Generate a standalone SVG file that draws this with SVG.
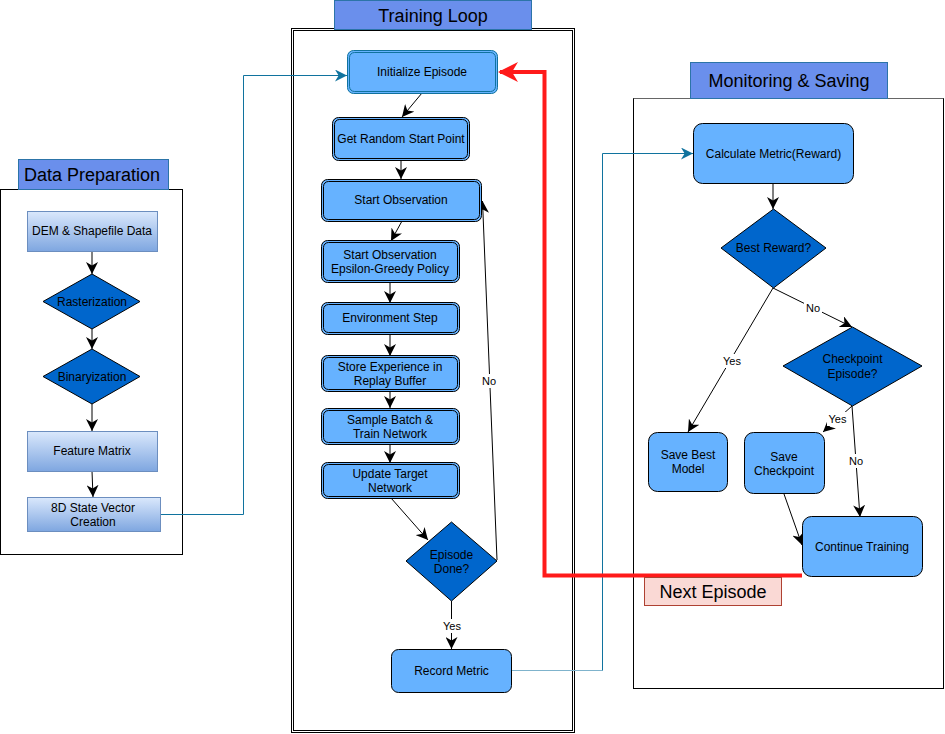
<svg xmlns="http://www.w3.org/2000/svg" width="945" height="734" viewBox="0 0 945 734">
<style>
text{font-family:"Liberation Sans",Arial,sans-serif;fill:#000;text-anchor:middle;dominant-baseline:central}
.t{font-size:12px}
.h{font-size:18px}
.l{font-size:11px}
.grad{fill:url(#g);stroke:#6c8ebf;stroke-width:1}
.dia{fill:#0066cc;stroke:#000;stroke-width:1}
.box{fill:#66b2ff;stroke:#000;stroke-width:1}
.dbo{fill:#66b2ff;stroke:#000;stroke-width:1}
.dbi{fill:none;stroke:#000;stroke-width:1}
.title{fill:#6a8fec;stroke:#2c74a8;stroke-width:1}
.cont{fill:#fff;stroke:#000;stroke-width:1}
.e{fill:none;stroke:#000;stroke-width:1;marker-end:url(#a)}
.eb{fill:none;stroke:#10739e;stroke-width:1;marker-end:url(#ab)}
.lb{fill:#fff}
</style>
<defs>
<linearGradient id="g" x1="0" y1="0" x2="0" y2="1"><stop offset="0" stop-color="#dae8fc"/><stop offset="1" stop-color="#7ea6e0"/></linearGradient>
<marker id="a" markerUnits="userSpaceOnUse" markerWidth="12" markerHeight="12" viewBox="0 0 10 10" refX="10" refY="5" orient="auto"><path d="M0,0 L10,5 L0,10 L3,5 z" fill="#000"/></marker>
<marker id="ab" markerUnits="userSpaceOnUse" markerWidth="12" markerHeight="12" viewBox="0 0 10 10" refX="10" refY="5" orient="auto"><path d="M0,0 L10,5 L0,10 L3,5 z" fill="#10739e"/></marker>
<marker id="ar" markerUnits="userSpaceOnUse" markerWidth="20" markerHeight="20" viewBox="0 0 10 10" refX="9" refY="5" orient="auto"><path d="M0,0 L10,5 L0,10 L3,5 z" fill="#ff1a1a"/></marker>
</defs>

<!-- containers -->
<g id="data-preparation">
<rect class="cont" x="0.5" y="189.5" width="182" height="365"/>
<rect class="title" x="18.5" y="159.5" width="150" height="30"/>
<text class="h" x="92" y="175">Data Preparation</text>
</g>
<g id="training-loop">
<rect class="cont" x="291.5" y="28.5" width="283" height="704"/>
<rect fill="none" stroke="#000" x="293.5" y="30.5" width="279" height="700"/>
<rect class="title" x="334.5" y="0.5" width="197" height="29"/>
<text class="h" x="433" y="16">Training Loop</text>
</g>
<g id="monitoring-saving">
<rect class="cont" x="633.5" y="98.5" width="310" height="590"/>
<line x1="633.5" y1="98.5" x2="943.5" y2="98.5" stroke="#666"/>
<rect class="title" x="690.5" y="62.5" width="197" height="36"/>
<text class="h" x="789" y="81">Monitoring &amp; Saving</text>
</g>

<!-- connectors -->
<g id="connectors">
<path class="e" d="M92,251 L92,274"/>
<path class="e" d="M92,329 L92,349"/>
<path class="e" d="M92,404 L92,431"/>
<path class="e" d="M92,471 L93,497"/>
<path class="eb" d="M161,514.5 L243.5,514.5 L243.5,75.5 L347,75.5"/>

<path class="e" d="M422,93 L402,117"/>
<path class="e" d="M401,160 L401,179"/>
<path class="e" d="M402,221 L391,241"/>
<path class="e" d="M390,283 L390,303"/>
<path class="e" d="M390,334 L390,356"/>
<path class="e" d="M390,392 L390,408"/>
<path class="e" d="M390,444 L390,463"/>
<path class="e" d="M391,498 L428,540"/>
<path class="e" d="M497,560 L482.5,201"/>
<rect class="lb" x="480" y="374" width="18" height="14"/>
<text class="l" x="489" y="381">No</text>
<path class="e" d="M451.5,601 L451.5,649"/>
<rect class="lb" x="441" y="619" width="22" height="14"/>
<text class="l" x="452" y="626">Yes</text>

<path fill="none" stroke="#7fb3cc" stroke-width="1" d="M512,670.5 L602.5,670.5"/>
<path class="eb" d="M602.5,670.5 L602.5,153.5 L693,153.5"/>

<path fill="none" stroke="#ff1a1a" stroke-width="4" stroke-linejoin="miter" marker-end="url(#ar)" d="M802,575.5 L544.5,575.5 L544.5,72 L500,72"/>

<path class="e" d="M773,183 L773,209"/>
<path class="e" d="M773,288 L852,327"/>
<rect class="lb" x="804" y="301" width="18" height="14"/>
<text class="l" x="813" y="308">No</text>
<path class="e" d="M773,288 L688,432"/>
<rect class="lb" x="721" y="354" width="22" height="14"/>
<text class="l" x="732" y="361">Yes</text>
<path class="e" d="M852,406 L823,432"/>
<rect class="lb" x="827" y="412" width="21" height="14"/>
<text class="l" x="837.5" y="419">Yes</text>
<path class="e" d="M852,406 L860,517"/>
<rect class="lb" x="847" y="454" width="18" height="14"/>
<text class="l" x="856" y="461">No</text>
<path class="e" d="M784,494 L802,545"/>
</g>

<!-- Data preparation nodes -->
<g id="dem-shapefile"><rect class="grad" x="27.5" y="211.5" width="130" height="40"/><text class="t" x="92" y="231">DEM &amp; Shapefile Data</text></g>
<g id="rasterization"><polygon class="dia" points="92,274 140,301.5 92,329 43,301.5"/><text class="t" x="92" y="302">Rasterization</text></g>
<g id="binaryization"><polygon class="dia" points="92,349 140,376.5 92,404 43,376.5"/><text class="t" x="92" y="377">Binaryization</text></g>
<g id="feature-matrix"><rect class="grad" x="27.5" y="431.5" width="130" height="40"/><text class="t" x="92" y="451">Feature Matrix</text></g>
<g id="state-vector"><rect class="grad" x="27.5" y="497.5" width="133" height="34"/><text class="t" x="93" y="508">8D State Vector</text><text class="t" x="93" y="522">Creation</text></g>

<!-- Training loop nodes -->
<g id="initialize-episode"><rect x="347.5" y="50.5" width="150" height="43" rx="6" fill="#66b2ff" stroke="#10739e"/><rect x="349.5" y="52.5" width="146" height="39" rx="5" fill="none" stroke="#10739e"/><text class="t" x="422" y="72">Initialize Episode</text></g>
<g id="get-random-start"><rect class="dbo" x="332.5" y="117.5" width="137" height="43" rx="6"/><rect class="dbi" x="334.5" y="119.5" width="133" height="39" rx="5"/><text class="t" x="401" y="139">Get Random Start Point</text></g>
<g id="start-observation"><rect class="dbo" x="321.5" y="179.5" width="160" height="42" rx="6"/><rect class="dbi" x="323.5" y="181.5" width="156" height="38" rx="5"/><text class="t" x="401" y="200">Start Observation</text></g>
<g id="epsilon-greedy"><rect class="dbo" x="321.5" y="240.5" width="138" height="42" rx="6"/><rect class="dbi" x="323.5" y="242.5" width="134" height="38" rx="5"/><text class="t" x="390" y="255">Start Observation</text><text class="t" x="390" y="269">Epsilon-Greedy Policy</text></g>
<g id="environment-step"><rect class="dbo" x="321.5" y="302.5" width="138" height="32" rx="6"/><rect class="dbi" x="323.5" y="304.5" width="134" height="28" rx="5"/><text class="t" x="390" y="318">Environment Step</text></g>
<g id="store-experience"><rect class="dbo" x="321.5" y="355.5" width="138" height="36" rx="6"/><rect class="dbi" x="323.5" y="357.5" width="134" height="32" rx="5"/><text class="t" x="390" y="367">Store Experience in</text><text class="t" x="390" y="381">Replay Buffer</text></g>
<g id="sample-batch"><rect class="dbo" x="321.5" y="408.5" width="138" height="36" rx="6"/><rect class="dbi" x="323.5" y="410.5" width="134" height="32" rx="5"/><text class="t" x="390" y="420">Sample Batch &amp;</text><text class="t" x="390" y="434">Train Network</text></g>
<g id="update-target"><rect class="dbo" x="321.5" y="462.5" width="138" height="36" rx="6"/><rect class="dbi" x="323.5" y="464.5" width="134" height="32" rx="5"/><text class="t" x="390" y="474">Update Target</text><text class="t" x="390" y="488">Network</text></g>
<g id="episode-done"><polygon class="dia" points="451.5,522 497,561 451.5,601 406,561"/><text class="t" x="451.5" y="555">Episode</text><text class="t" x="451.5" y="569">Done?</text></g>
<g id="record-metric"><rect class="box" x="391.5" y="649.5" width="120" height="43" rx="7"/><text class="t" x="451.5" y="671">Record Metric</text></g>

<!-- Monitoring nodes -->
<g id="calculate-metric"><rect class="box" x="693.5" y="123.5" width="160" height="60" rx="9"/><text class="t" x="773.5" y="154">Calculate Metric(Reward)</text></g>
<g id="best-reward"><polygon class="dia" points="773.5,209 826,248 773.5,288 721,248"/><text class="t" x="773.5" y="248">Best Reward?</text></g>
<g id="checkpoint-episode"><polygon class="dia" points="852.5,327 922,366 852.5,406 783,366"/><text class="t" x="852.5" y="359">Checkpoint</text><text class="t" x="852.5" y="374">Episode?</text></g>
<g id="save-best-model"><rect class="box" x="648.5" y="432.5" width="79" height="59" rx="9"/><text class="t" x="688" y="455">Save Best</text><text class="t" x="688" y="469">Model</text></g>
<g id="save-checkpoint"><rect class="box" x="744.5" y="432.5" width="80" height="61" rx="9"/><text class="t" x="784" y="457">Save</text><text class="t" x="784" y="471">Checkpoint</text></g>
<g id="continue-training"><rect class="box" x="802.5" y="516.5" width="120" height="60" rx="9"/><text class="t" x="862" y="547">Continue Training</text></g>

<g id="next-episode"><rect x="644.5" y="577.5" width="137" height="28" fill="#fad9d5" stroke="#ae4132"/><text class="h" x="713" y="592">Next Episode</text></g>
</svg>
